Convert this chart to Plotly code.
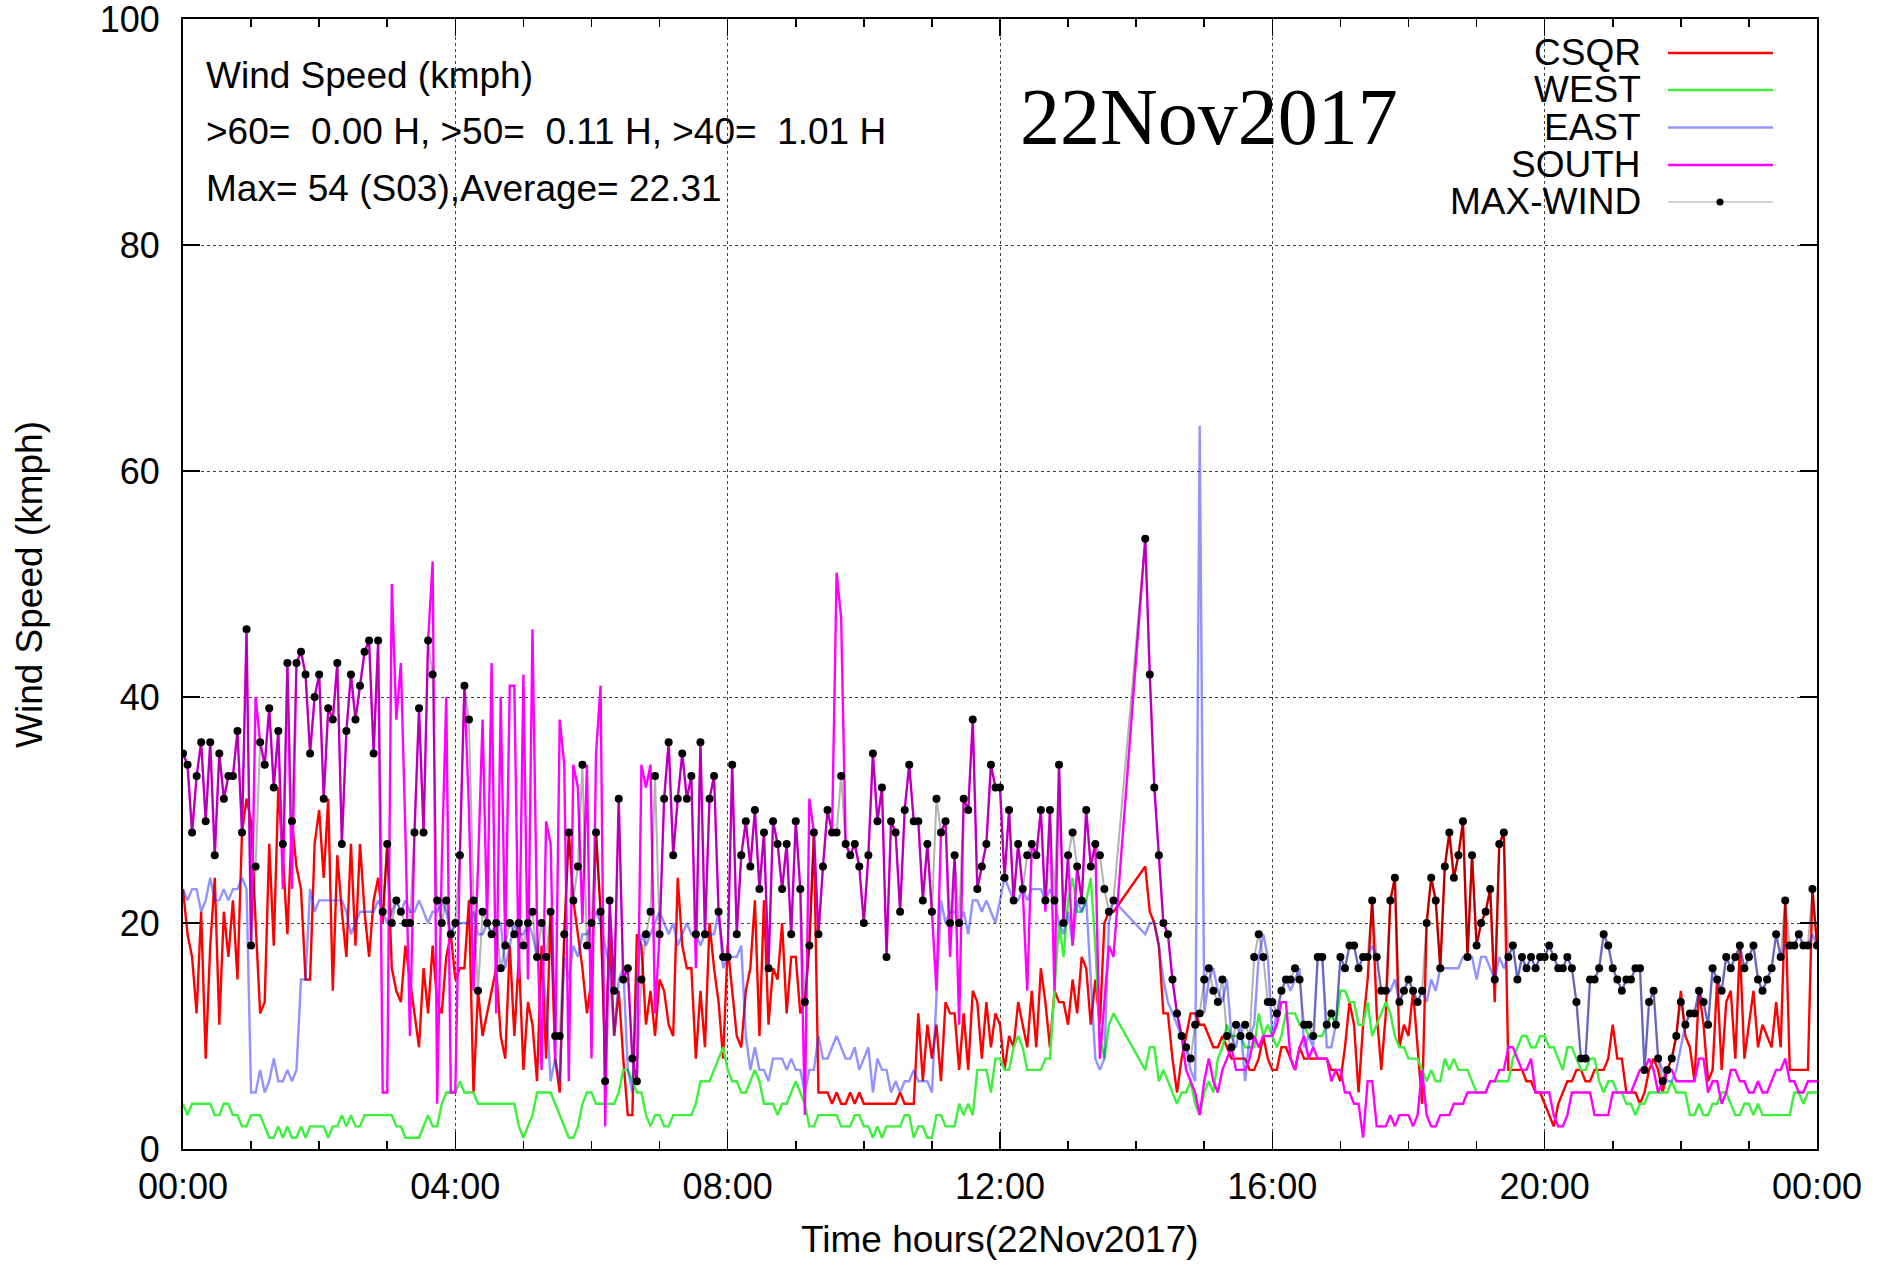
import plotly.graph_objects as go
from datetime import datetime, timedelta

N = None  # no reading (the line is drawn straight across the gap)
STEP_MIN = 4  # one reading every 4 minutes

# ---- wind speed (kmph), one row per 4-hour block: 00-04, 04-08, 08-12, 12-16, 16-20, 20-24 ----
CSQR = [
 [23,19,17,12,21,8,18,24,11,21, 17,22,15,28,31,29,20,12,13,27, 18,32,26,19,29,25,23,15,15,27, 30,24,31,14,26,21,17,27,18,27, 21,17,22,24,20,27,16,14,13,18, 15,12,9,16,12,18,13,12,17,19],
 [15,16,16,22,5,14,10,12,14,16, 10,8,18,10,17,7,13,11,6,18, 8,21,8,5,19,28,22,19,16,12, 15,28,21,8,19,10,14,8,3,3, 19,18,11,14,10,15,14,11,10,24, 18,16,16,8,14,9,20,16,13,8],
 [18,14,10,9,14,16,22,10,22,11, 16,15,20,12,17,17,12,13,18,28, 5,5,5,4,5,4,4,5,4,5, 4,4,4,4,4,4,4,4,5,4, 4,4,12,6,11,8,11,6,13,12, 12,7,12,7,14,13,8,13,9,12],
 [11,7,10,9,13,11,9,14,9,16, 13,9,14,13,13,11,15,12,17,16, 11,15,11,20,21,21,N,N,N,N, N,N,25,21,20,18,12,12,8,5, 8,10,12,12,11,11,10,9,9,10, 9,8,8,8,8,7,7,8,10,8],
 [7,7,9,9,8,7,9,8,8,8, 8,8,8,7,7,6,9,13,11,5, 11,15,22,12,7,12,22,24,9,11, 10,14,9,4,20,24,22,16,25,28, 24,26,29,17,26,18,20,21,23,13, 27,28,7,7,7,7,6,6,5,5],
 [4,3,2,4,5,6,6,7,7,6, 6,7,7,7,8,11,8,8,5,5, 5,4,5,7,8,7,5,7,8,10, 14,10,9,6,14,11,6,7,15,7, 13,14,8,18,8,11,14,9,11,10, 9,13,9,22,7,7,7,7,7,23, 18],
]

WEST = [
 [4,3,4,4,4,4,4,3,3,4, 4,3,3,2,2,3,3,3,2,1, 1,2,1,2,1,1,2,1,2,2, 2,2,1,2,2,3,2,3,2,2, 3,3,3,3,3,3,3,2,2,1, 1,1,1,2,3,2,2,4,5,5],
 [5,6,5,5,5,4,4,4,4,4, 4,4,4,4,2,1,2,3,5,5, 5,5,4,3,2,1,1,2,4,5, 5,4,4,4,4,4,5,7,7,6, 5,5,3,2,3,3,2,2,3,3, 3,3,3,4,6,6,6,7,8,9],
 [7,6,6,5,5,6,7,6,4,4, 4,3,4,4,5,6,5,4,2,2, 3,3,3,3,3,2,2,2,3,3, 2,2,1,2,1,2,2,2,2,3, 3,1,2,2,1,1,3,3,2,2, 2,4,3,4,3,7,7,7,5,8],
 [8,7,7,9,10,9,7,7,7,7, 8,8,14,20,17,22,24,21,21,22, 24,18,10,8,11,12,N,N,N,N, N,N,7,9,9,6,7,6,5,4, 5,5,6,4,3,5,6,5,8,9, 11,10,10,10,9,9,9,12,10,11],
 [10,9,10,12,12,12,11,11,10,10, 10,10,11,12,11,14,14,13,13,11, 11,13,10,11,12,13,12,10,9,9, 8,8,8,7,6,7,6,6,8,7, 8,7,7,7,6,5,5,5,6,6, 6,6,6,8,9,10,10,9,9,10],
 [10,9,9,8,7,9,9,8,7,7, 8,8,6,5,6,6,5,5,4,4, 3,4,4,5,5,5,5,5,6,5, 5,5,3,3,4,3,3,4,4,5, 5,4,3,3,4,4,3,4,3,3, 3,3,3,3,3,5,5,4,5,5, 5],
]

EAST = [
 [23,22,23,23,21,22,24,22,22,23, 22,23,23,24,23,5,5,7,5,6, 8,6,6,7,6,7,15,15,23,21, 22,22,22,22,22,22,21,19,20,21, 21,21,21,22,21,20,21,22,21,22, 21,21,22,21,20,21,21,22,21,19],
 [20,20,20,20,21,19,19,20,19,20, 20,16,18,20,19,19,20,19,17,17, 13,6,8,6,17,15,18,17,19,19, 20,21,20,18,16,10,15,16,7,5, 15,19,18,19,20,21,20,19,20,18, 19,20,19,19,18,19,19,19,21,16],
 [17,17,17,18,10,7,9,7,7,6, 8,8,8,7,8,7,7,5,7,7, 10,8,8,9,10,9,8,8,9,7, 8,9,5,8,7,7,5,6,5,6, 6,7,6,6,6,5,14,22,20,21, 21,20,21,19,22,22,21,22,21,20],
 [22,24,23,22,22,23,22,23,23,23, 22,23,22,20,19,21,18,22,21,22, 15,8,7,8,20,22,N,N,N,N, N,N,19,20,20,18,15,13,12,11, 10,9,7,6,64,12,15,16,14,13, 15,10,9,11,6,10,11,17,19,17],
 [10,12,14,15,14,15,16,9,10,9, 17,17,9,9,11,17,16,18,18,16, 17,17,18,17,14,14,14,15,13,14, 15,14,13,14,13,15,14,16,16,16, 16,16,17,17,17,15,17,17,16,15, 17,16,17,18,15,17,16,17,16,17],
 [17,18,17,16,16,17,16,13,8,8, 15,15,16,19,18,16,15,14,15,15, 16,16,7,13,14,8,7,6,6,7, 9,11,12,12,14,13,11,16,15,14, 17,16,17,18,16,17,18,15,14,15, 16,19,17,18,18,18,19,18,18,19, 18],
]

SOUTH = [
 [35,34,28,33,36,29,36,26,35,31, 33,33,37,28,46,18,40,36,34,39, 32,37,23,43,23,43,44,42,35,40, 42,31,39,38,43,27,37,42,38,41, 44,45,35,45,5,5,50,38,43,28, 10,28,39,28,45,52,4,25,40,5],
 [5,26,41,30,14,25,38,20,43,12, 40,18,41,41,15,42,15,46,20,7, 29,27,8,38,34,6,34,32,20,34, 8,35,41,2,22,14,31,15,16,8, 6,34,32,34,12,19,31,36,26,31, 35,31,33,16,36,19,31,33,21,17],
 [17,34,19,26,29,25,30,23,28,16, 29,27,23,27,19,29,23,3,31,28, 19,25,30,28,51,47,27,26,27,25, 20,26,35,29,32,17,29,28,21,30, 34,29,29,22,27,21,14,28,29,17, 26,11,31,30,38,23,25,27,34,32],
 [32,24,30,22,27,23,14,27,26,30, 21,30,14,34,20,26,18,25,22,30, 25,27,8,13,18,17,N,N,N,N, N,N,54,42,32,26,20,19,15,12, 10,7,6,5,3,6,8,6,5,7, 8,9,7,7,7,8,10,9,10,10],
 [10,11,13,13,8,7,9,10,8,9, 8,8,8,6,7,7,5,5,4,4, 1,6,6,2,2,2,3,2,3,3, 3,2,3,7,3,2,2,3,3,3, 4,4,4,5,5,5,5,5,6,6, 7,7,9,9,8,7,7,8,5,5],
 [5,5,3,2,2,3,5,5,5,5, 5,3,3,3,3,5,5,5,5,5, 6,7,7,8,7,5,6,7,7,6, 6,6,6,6,8,8,5,6,6,4, 5,7,7,6,6,5,5,6,5,5, 6,7,7,8,6,6,5,5,6,6, 6],
]

MAX_WIND = [
 [35,34,28,33,36,29,36,26,35,31, 33,33,37,28,46,18,25,36,34,39, 32,37,27,43,29,43,44,42,35,40, 42,31,39,38,43,27,37,42,38,41, 44,45,35,45,21,27,20,22,21,20, 20,28,39,28,45,42,22,20,22,19],
 [20,26,41,38,22,14,21,20,19,20, 16,18,20,19,20,18,20,21,17,20, 17,21,10,10,19,28,22,25,34,18, 20,28,21,6,22,14,31,15,16,8, 6,15,19,21,33,19,31,36,26,31, 35,31,33,19,36,19,31,33,21,17],
 [17,34,19,26,29,25,30,23,28,16, 29,27,23,27,19,29,23,13,18,28, 19,25,30,28,28,33,27,26,27,25, 20,26,35,29,32,17,29,28,21,30, 34,29,29,22,27,21,31,28,29,20, 26,20,31,30,38,23,25,27,34,32],
 [32,24,30,22,27,23,26,27,26,30, 22,30,22,34,20,26,28,25,22,30, 25,27,26,23,21,22,N,N,N,N, N,N,54,42,32,26,20,19,15,12, 10,9,8,11,12,15,16,14,13,15, 10,9,11,10,11,10,17,19,17,13],
 [13,12,14,15,15,16,15,11,11,10, 17,17,11,12,11,17,16,18,18,16, 17,17,22,17,14,14,22,24,13,14, 15,14,13,14,20,24,22,16,25,28, 24,26,29,17,26,18,20,21,23,15, 27,28,17,18,15,17,16,17,16,17],
 [17,18,17,16,16,17,16,13,8,8, 15,15,16,19,18,16,15,14,15,15, 16,16,7,13,14,8,6,7,8,10, 13,11,12,12,14,13,11,16,15,14, 17,16,17,18,16,17,18,15,14,15, 16,19,17,22,18,18,19,18,18,23, 18],
]

SERIES_NAMES = ["CSQR", "WEST", "EAST", "SOUTH", "MAX-WIND"]
INFO_LINES = [
    "Wind Speed (kmph)",
    ">60=\u00a0 0.00 H, >50=\u00a0 0.11 H, >40=\u00a0 1.01 H",
    "Max= 54 (S03),Average= 22.31",
]
DATE_LABEL = "22Nov2017"
X_TITLE = "Time hours(22Nov2017)"
Y_TITLE = "Wind Speed (kmph)"
Y_TICKS = [0, 20, 40, 60, 80, 100]


def flatten(name, blocks):
    lens = [len(b) for b in blocks]
    if lens != [60, 60, 60, 60, 60, 61]:
        raise ValueError(f"{name} block lengths {lens}")
    return [v for b in blocks for v in b]


csqr = flatten("CSQR", CSQR)
west = flatten("WEST", WEST)
east = flatten("EAST", EAST)
south = flatten("SOUTH", SOUTH)
maxw = flatten("MAX", MAX_WIND)

base = datetime(2017, 11, 22)
times = [base + timedelta(minutes=STEP_MIN * i) for i in range(len(csqr))]

# ---- geometry (page pixels); the body margin is removed after plotting ----
W, H = 1886, 1264
PL, PR, PT, PB = 183, 1817, 19, 1149   # plot box on the page


def px(x):
    return (x - PL) / (PR - PL)


def py(y):
    return (PB - y) / (PB - PT)


SANS = "Liberation Sans, Arial, sans-serif"
SERIF = "Liberation Serif, Times New Roman, serif"
FS = 37
TFS = 36

COL_CSQR = "#ff0000"
COL_WEST = "rgb(60,240,60)"
COL_EAST = "rgba(40,40,255,0.5)"
COL_SOUTH = "#ff00ff"
COL_MAXLINE = "rgba(0,0,0,0.3)"

fig = go.Figure()
fig.add_trace(go.Scatter(x=times, y=csqr, mode="lines", name="CSQR",
                         line=dict(color=COL_CSQR, width=2.4), connectgaps=True))
fig.add_trace(go.Scatter(x=times, y=west, mode="lines", name="WEST",
                         line=dict(color=COL_WEST, width=2.4), connectgaps=True))
fig.add_trace(go.Scatter(x=times, y=east, mode="lines", name="EAST",
                         line=dict(color=COL_EAST, width=2.4), connectgaps=True))
fig.add_trace(go.Scatter(x=times, y=south, mode="lines", name="SOUTH",
                         line=dict(color=COL_SOUTH, width=2.4), connectgaps=True))
fig.add_trace(go.Scatter(x=times, y=maxw, mode="lines+markers", name="MAX-WIND",
                         line=dict(color=COL_MAXLINE, width=2),
                         marker=dict(color="black", size=8), connectgaps=True))

axis_common = dict(
    showline=True, linecolor="black", linewidth=2, mirror="allticks",
    ticks="inside", ticklen=17, tickwidth=1.6, tickcolor="black",
    showgrid=True, gridcolor="rgba(0,0,0,0.75)", gridwidth=1, griddash="dot",
    zeroline=False, tickfont=dict(family=SANS, size=TFS, color="black"),
    ticklabeloverflow="allow", automargin=False,
)

fig.update_xaxes(
    type="date", range=[base, base + timedelta(days=1)],
    tick0=base, dtick=4 * 3600 * 1000, tickformat="%H:%M",
    minor=dict(dtick=3600 * 1000, ticks="inside", ticklen=8, tickwidth=1.6,
               tickcolor="black", showgrid=False),
    ticklabelstandoff=5,
    **axis_common,
)
fig.update_yaxes(
    range=[0, 100], tickmode="array", tickvals=Y_TICKS,
    ticktext=[str(v) for v in Y_TICKS],
    ticklabelstandoff=14,
    **axis_common,
)

annotations = []
for text, yc in zip(INFO_LINES, [75, 131, 188]):
    annotations.append(dict(xref="paper", yref="paper", x=px(204), y=py(yc),
                            text=text, showarrow=False, xanchor="left", yanchor="middle",
                            font=dict(family=SANS, size=FS, color="black")))
annotations.append(dict(xref="paper", yref="paper", x=px(1018), y=py(117),
                        text=DATE_LABEL, showarrow=False, xanchor="left", yanchor="middle",
                        font=dict(family=SERIF, size=80, color="black")))
annotations.append(dict(xref="paper", yref="paper", x=0.5, y=py(1239),
                        text=X_TITLE, showarrow=False, xanchor="center", yanchor="middle",
                        font=dict(family=SANS, size=FS, color="black")))
annotations.append(dict(xref="paper", yref="paper", x=px(29), y=py(585),
                        text=Y_TITLE, showarrow=False, textangle=-90,
                        xanchor="center", yanchor="middle",
                        font=dict(family=SANS, size=FS, color="black")))

# ---- manual key (labels right-aligned, sample lines to the right) ----
legend_rows = [53, 90, 127.5, 165, 202]
legend_colors = [COL_CSQR, COL_WEST, "rgba(60,60,255,0.55)", COL_SOUTH, "rgba(0,0,0,0.35)"]
shapes = []
for name, yc, col in zip(SERIES_NAMES, legend_rows, legend_colors):
    annotations.append(dict(xref="paper", yref="paper", x=px(1643), y=py(yc),
                            text=name, showarrow=False, xanchor="right", yanchor="middle",
                            font=dict(family=SANS, size=FS, color="black")))
    shapes.append(dict(type="line", xref="paper", yref="paper",
                       x0=px(1668), x1=px(1773), y0=py(yc), y1=py(yc),
                       line=dict(color=col, width=1.2 if name == "MAX-WIND" else 2.5)))
yc = legend_rows[-1]
r = 3.5
shapes.append(dict(type="circle", xref="paper", yref="paper",
                   x0=px(1720 - r), x1=px(1720 + r), y0=py(yc + r), y1=py(yc - r),
                   fillcolor="black", line=dict(color="black", width=0)))

fig.update_layout(
    width=W, height=H,
    margin=dict(l=PL, r=W - PR, t=PT, b=H - PB, pad=0, autoexpand=False),
    plot_bgcolor="white", paper_bgcolor="white",
    showlegend=False, hovermode=False,
    annotations=annotations, shapes=shapes,
    font=dict(family=SANS, size=FS, color="black"),
)

fig.write_html(
    "out.html",
    config={"displayModeBar": False, "staticPlot": True},
    post_script="document.body.style.margin='0px';"
                "document.body.style.overflow='hidden';",
)
